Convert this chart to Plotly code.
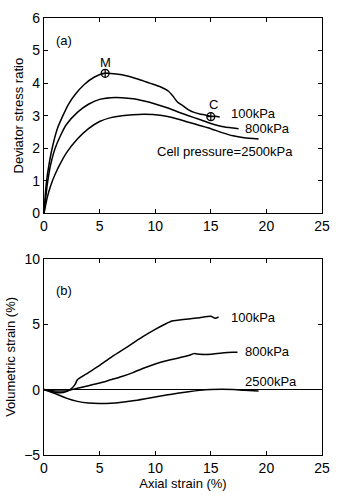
import plotly.graph_objects as go
from plotly.subplots import make_subplots

# (a) deviator stress ratio vs axial strain
a100_x = [0, 0.2, 0.5, 0.8, 1.2, 1.7, 2.2, 2.8, 3.6, 4.5, 5.5, 6.5, 7.5, 8.5, 9.5, 10.5, 11.2, 11.6, 12.0, 12.5, 13.0, 13.5, 14.0, 14.5, 15.0, 15.4, 15.8]
a100_y = [0, 0.9, 1.6, 2.1, 2.6, 3.0, 3.35, 3.65, 3.95, 4.18, 4.3, 4.28, 4.22, 4.12, 4.0, 3.88, 3.75, 3.6, 3.42, 3.3, 3.18, 3.1, 3.05, 3.02, 2.98, 2.98, 2.96]
a800_x = [0, 0.3, 0.6, 1.0, 1.5, 2.0, 3.0, 4.0, 5.0, 6.0, 7.0, 8.0, 9.0, 10.0, 11.0, 12.0, 13.0, 14.0, 15.0, 16.0, 17.0, 17.5]
a800_y = [0, 0.9, 1.5, 2.0, 2.4, 2.72, 3.1, 3.35, 3.5, 3.55, 3.55, 3.52, 3.45, 3.36, 3.25, 3.12, 3.0, 2.88, 2.76, 2.67, 2.62, 2.6]
a2500_x = [0, 0.3, 0.6, 1.0, 1.5, 2.0, 3.0, 4.0, 5.0, 6.0, 7.0, 8.0, 9.0, 10.0, 11.0, 12.0, 13.0, 14.0, 15.0, 16.0, 17.0, 18.0, 19.3]
a2500_y = [0, 0.5, 0.85, 1.2, 1.55, 1.85, 2.28, 2.6, 2.82, 2.94, 3.0, 3.03, 3.04, 3.03, 2.98, 2.9, 2.8, 2.7, 2.6, 2.48, 2.38, 2.32, 2.28]
pts_x = [5.5, 15.0]
pts_y = [4.3, 2.97]
pts_lab = ["M", "C"]

# (b) volumetric strain vs axial strain
b100_x = [0, 0.5, 1.0, 1.5, 2.0, 2.5, 2.8, 3.0, 4.0, 5.0, 6.0, 7.0, 8.0, 9.0, 10.0, 11.0, 11.5, 12.0, 13.0, 14.0, 15.0, 15.4, 15.7]
b100_y = [0, -0.1, -0.2, -0.25, -0.15, 0.1, 0.4, 0.75, 1.3, 1.85, 2.45, 3.0, 3.55, 4.1, 4.6, 5.05, 5.25, 5.3, 5.4, 5.5, 5.6, 5.45, 5.55]
b800_x = [0, 1.0, 2.0, 2.5, 3.0, 4.0, 5.0, 6.0, 7.0, 8.0, 9.0, 10.0, 11.0, 12.0, 13.0, 13.5, 14.0, 15.0, 16.0, 17.0, 17.4]
b800_y = [0, -0.1, -0.1, 0.0, 0.1, 0.3, 0.5, 0.75, 1.0, 1.3, 1.65, 1.95, 2.2, 2.4, 2.6, 2.75, 2.7, 2.7, 2.8, 2.85, 2.85]
b2500_x = [0, 1.0, 2.0, 3.0, 4.0, 5.0, 6.0, 7.0, 8.0, 9.0, 10.0, 11.0, 12.0, 13.0, 14.0, 15.0, 16.0, 17.0, 18.0, 19.3]
b2500_y = [0, -0.3, -0.65, -0.9, -1.03, -1.07, -1.05, -0.97, -0.86, -0.72, -0.57, -0.42, -0.28, -0.16, -0.06, 0.0, 0.02, 0.0, -0.05, -0.1]

x_ticks = [0, 5, 10, 15, 20, 25]
ya_ticks = [0, 1, 2, 3, 4, 5, 6]
yb_ticks = [-5, 0, 5, 10]

FONT = "Liberation Sans, Arial, sans-serif"
fig = make_subplots(rows=2, cols=1, vertical_spacing=0.1)
line = dict(color="black", width=1.5)

for xs, ys in [(a100_x, a100_y), (a800_x, a800_y), (a2500_x, a2500_y)]:
    fig.add_trace(go.Scatter(x=xs, y=ys, mode="lines", line=dict(line, shape="spline", smoothing=0.6),
                             showlegend=False, hoverinfo="skip"), row=1, col=1)
fig.add_trace(go.Scatter(x=pts_x, y=pts_y, mode="markers",
                         marker=dict(symbol="circle-cross-open", size=8, color="black", line=dict(width=1.2)),
                         showlegend=False), row=1, col=1)
for xs, ys in [(b100_x, b100_y), (b800_x, b800_y), (b2500_x, b2500_y)]:
    fig.add_trace(go.Scatter(x=xs, y=ys, mode="lines", line=dict(line, shape="spline", smoothing=0.6),
                             showlegend=False, hoverinfo="skip"), row=2, col=1)

axis_common = dict(showgrid=False, ticks="inside", ticklen=4, tickcolor="black", linecolor="black",
                   linewidth=1.2, mirror="allticks", showline=True, tickfont=dict(family=FONT, size=14, color="black"))
fig.update_xaxes(**axis_common, range=[0, 25], tickvals=x_ticks, zeroline=False)
fig.update_yaxes(**axis_common)
fig.update_yaxes(range=[0, 6], tickvals=ya_ticks, zeroline=False, row=1, col=1,
                 title=dict(text="Deviator stress ratio", font=dict(family=FONT, size=13, color="black"), standoff=5))
fig.update_yaxes(range=[-5, 10], tickvals=yb_ticks, zeroline=True, zerolinecolor="black", zerolinewidth=1.4,
                 row=2, col=1,
                 title=dict(text="Volumetric strain (%)", font=dict(family=FONT, size=13, color="black"), standoff=5))
fig.update_xaxes(row=2, col=1, title=dict(text="Axial strain (%)", font=dict(family=FONT, size=13, color="black"), standoff=2))

fig.layout.yaxis.domain = [0.553, 1.0]
fig.layout.yaxis2.domain = [0.0, 0.449]

tf = dict(family=FONT, size=13, color="black")
ann = [
    ("x", "y", 0.9, 5.3, "(a)", "left"),
    ("x", "y", 16.6, 3.07, "100kPa", "left"),
    ("x", "y", 17.9, 2.62, "800kPa", "left"),
    ("x", "y", 10.0, 1.9, "Cell pressure=2500kPa", "left"),
    ("x", "y", pts_x[0], 4.63, pts_lab[0], "center"),
    ("x", "y", 15.2, 3.34, pts_lab[1], "center"),
    ("x2", "y2", 0.9, 7.6, "(b)", "left"),
    ("x2", "y2", 16.6, 5.5, "100kPa", "left"),
    ("x2", "y2", 17.9, 2.9, "800kPa", "left"),
    ("x2", "y2", 17.9, 0.62, "2500kPa", "left"),
]
for xr, yr, x, y, t, al in ann:
    fig.add_annotation(xref=xr, yref=yr, x=x, y=y, text=t, showarrow=False, xanchor=al, yanchor="middle", font=tf)

fig.update_layout(width=340, height=497, margin=dict(l=42, r=11, t=10, b=37),
                  plot_bgcolor="white", paper_bgcolor="white", font=dict(family=FONT, color="black"))
fig.write_html("out.html")
